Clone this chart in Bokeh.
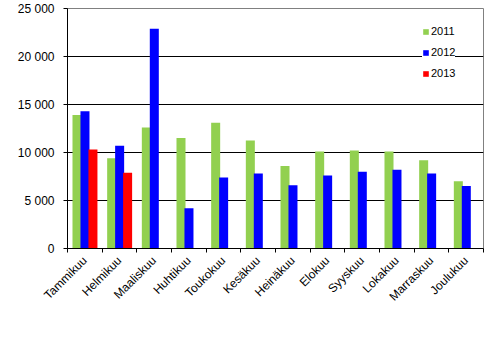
import math
from bokeh.plotting import figure
from bokeh.models import FixedTicker, Legend, LegendItem, ColumnDataSource
from bokeh.embed import file_html
from bokeh.resources import INLINE

months = ["Tammikuu", "Helmikuu", "Maaliskuu", "Huhtikuu", "Toukokuu", "Kesäkuu",
          "Heinäkuu", "Elokuu", "Syyskuu", "Lokakuu", "Marraskuu", "Joulukuu"]
v2011 = [13900, 9400, 12600, 11500, 13100, 11250, 8600, 10100, 10200, 10100, 9200, 7000]
v2012 = [14300, 10700, 22900, 4200, 7400, 7800, 6600, 7600, 8000, 8200, 7800, 6500]
v2013 = [10300, 7900]
series_names = ["2011", "2012", "2013"]
colors = ["#92D050", "#0000FF", "#FF0000"]
y_ticks = [0, 5000, 10000, 15000, 20000, 25000]
y_tick_labels = ["0", "5 000", "10 000", "15 000", "20 000", "25 000"]

FONT = "Liberation Sans"

p = figure(width=498, height=340, output_backend="svg", toolbar_location=None,
           x_range=(0, 12), y_range=(0, 25000),
           min_border_left=67, min_border_right=15, min_border_top=8, min_border_bottom=92)
p.outline_line_color = "#808080"
p.outline_line_width = 1
p.background_fill_color = "white"
p.border_fill_color = "white"

offsets = [0.274, 0.504, 0.734]
bar_w = 0.26
renderers = []
for k, vals in enumerate([v2011, v2012, v2013]):
    xs = [i + offsets[k] for i in range(len(vals))]
    src = ColumnDataSource(dict(x=xs, top=vals))
    r = p.vbar(x="x", top="top", width=bar_w, bottom=0, source=src,
               fill_color=colors[k], line_color=None)
    renderers.append(r)

# grid
p.xgrid.visible = False
p.ygrid.ticker = FixedTicker(ticks=y_ticks)
p.ygrid.grid_line_color = "black"
p.ygrid.grid_line_width = 1

# y axis
p.yaxis.ticker = FixedTicker(ticks=y_ticks)
p.yaxis.major_label_overrides = {t: l for t, l in zip(y_ticks, y_tick_labels)}
p.yaxis.major_tick_out = 4
p.yaxis.major_tick_in = 0
p.yaxis.minor_tick_line_color = None
p.yaxis.axis_line_color = "black"
p.yaxis.major_tick_line_color = "black"
p.yaxis.major_label_standoff = 9
p.yaxis.major_label_text_font = FONT
p.yaxis.major_label_text_font_size = "12px"
p.yaxis.major_label_text_color = "black"

# x axis
centers = [i + 0.5 for i in range(12)]
p.xaxis.ticker = FixedTicker(ticks=centers, minor_ticks=list(range(13)))
p.xaxis.major_label_overrides = {c: m for c, m in zip(centers, months)}
p.xaxis.major_tick_line_color = None
p.xaxis.minor_tick_out = 4
p.xaxis.minor_tick_in = 0
p.xaxis.minor_tick_line_color = "black"
p.xaxis.axis_line_color = "black"
p.xaxis.major_label_orientation = math.pi / 4
p.xaxis.major_label_standoff = 4
p.xaxis.major_label_text_font = FONT
p.xaxis.major_label_text_font_size = "12px"
p.xaxis.major_label_text_color = "black"

legend = Legend(items=[LegendItem(label=n, renderers=[r]) for n, r in zip(series_names, renderers)],
                location=(355, 166))
legend.glyph_width = 7
legend.glyph_height = 7
legend.label_height = 18
legend.spacing = 3
legend.padding = 5
legend.margin = 0
legend.label_standoff = 2
legend.label_text_font = FONT
legend.label_text_font_size = "11px"
legend.label_text_color = "black"
legend.border_line_color = None
legend.background_fill_color = "white"
legend.background_fill_alpha = 1.0
p.add_layout(legend, "center")

open("out.html", "w").write(file_html(p, INLINE))
